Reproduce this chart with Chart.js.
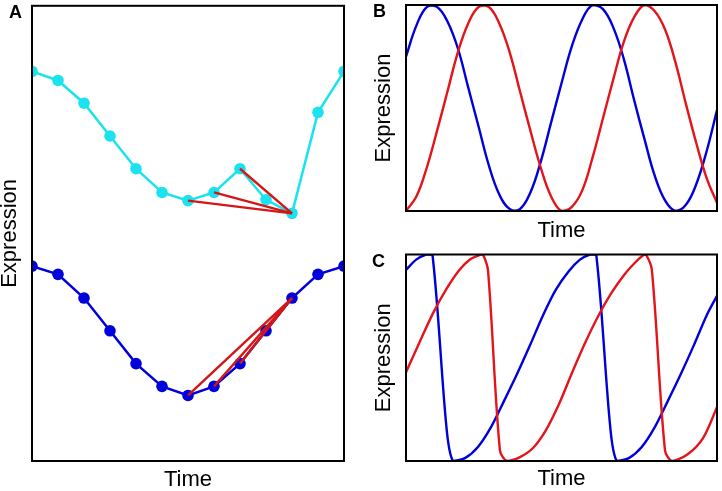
<!DOCTYPE html>
<html>
<head>
<meta charset="utf-8">
<script src="https://cdn.jsdelivr.net/npm/chart.js@4.4.1/dist/chart.umd.min.js"></script>
<style>
  html, body { margin: 0; padding: 0; background: #fff; }
  #wrap { position: relative; width: 722px; height: 491px; overflow: hidden; font-family: "Liberation Sans", Arial, sans-serif; }
  canvas { position: absolute; }
  .tag { position: absolute; font-weight: bold; font-size: 18px; line-height: 18px; color: #000; }
</style>
</head>
<body>
<div id="wrap">
  <canvas id="chartA" width="360" height="491" style="left:0;top:0"></canvas>
  <canvas id="chartB" width="362" height="245" style="left:360px;top:0"></canvas>
  <canvas id="chartC" width="362" height="246" style="left:360px;top:245px"></canvas>
  <div class="tag" style="left:9px;top:3px">A</div>
  <div class="tag" style="left:373px;top:2px">B</div>
  <div class="tag" style="left:372px;top:252px">C</div>
</div>
<script>
// Panel A: sampled time course, 13 time points
const timeA = [0, 1, 2, 3, 4, 5, 6, 7, 8, 9, 10, 11, 12];
const cyanA = [85.6, 83.6, 78.6, 71.4, 64.2, 59.0, 57.2, 59.0, 64.2, 57.4, 54.4, 76.6, 85.6];
const blueA = [42.8, 41.0, 35.8, 28.6, 21.4, 16.4, 14.4, 16.4, 21.4, 28.6, 35.8, 41.0, 42.8];
// red connector lines (pairs of time-point indices)
const linksA = [[6, 10], [7, 10], [8, 10]];

// Panel B: two sine-like oscillators
const timeB = [0, 1, 2, 3, 4, 5, 6, 7, 8, 9, 10, 11, 12, 13, 14, 15, 16, 17, 18, 19, 20, 21, 22, 23, 24, 25, 26, 27, 28, 29, 30];
const blueB = [0.75, 0.90, 0.99, 0.99, 0.92, 0.79, 0.60, 0.41, 0.22, 0.08, 0.01, 0.01, 0.09, 0.24, 0.43, 0.62,
               0.80, 0.93, 1.00, 0.98, 0.89, 0.74, 0.54, 0.35, 0.17, 0.05, 0.00, 0.03, 0.13, 0.29, 0.49];
const redB = [0.00, 0.07, 0.21, 0.39, 0.58, 0.77, 0.91, 0.99, 0.99, 0.91, 0.77, 0.58, 0.39, 0.21, 0.07, 0.00,
              0.02, 0.10, 0.26, 0.45, 0.64, 0.82, 0.94, 1.00, 0.97, 0.88, 0.72, 0.52, 0.33, 0.16, 0.04];

// Panel C: sawtooth-like oscillators
const blueCTime = [0, 0.98, 1.94, 2.55, 3.9, 4.53, 5.69, 6.94, 8.2, 9.45, 10.7, 11.96, 13.21, 14.46, 15.72, 16.78,
                   17.74, 18.35, 19.7, 20.33, 21.49, 22.74, 24.0, 25.25, 26.5, 27.76, 29.0, 30];
const blueC = [0.925, 0.975, 1.0, 1.0, 0.165, 0.0, 0.014, 0.068, 0.164, 0.29, 0.42, 0.56, 0.705, 0.83, 0.92, 0.975,
               1.0, 1.0, 0.165, 0.0, 0.014, 0.068, 0.164, 0.29, 0.42, 0.56, 0.705, 0.80];
const redCTime = [0, 1.35, 2.6, 3.86, 5.11, 6.17, 7.23, 7.43, 7.91, 9.06, 9.74, 10.99, 12.25, 13.5, 14.75, 16.0,
                  17.26, 18.52, 19.77, 21.02, 22.08, 22.85, 23.14, 23.72, 24.98, 25.65, 27.1, 28.64, 30];
const redC = [0.43, 0.58, 0.715, 0.83, 0.923, 0.976, 1.0, 1.0, 0.923, 0.053, 0.0, 0.019, 0.063, 0.15, 0.275, 0.425,
              0.57, 0.70, 0.81, 0.90, 0.96, 0.995, 1.0, 0.923, 0.053, 0.0, 0.03, 0.11, 0.26];

const BLUE = '#0000dc';
const RED = '#e3141a';
const CYAN = '#1ae2ee';
const DARKRED = '#d41616';

const titleFont = { family: '"Liberation Sans", Arial, sans-serif', size: 22, lineHeight: 0.8 };

// black box around the plot area
const framePlugin = {
    id: 'frame',
    afterDraw(chart) {
        const { ctx, chartArea } = chart;
        ctx.save();
        ctx.strokeStyle = '#000';
        ctx.lineWidth = 2;
        ctx.strokeRect(chartArea.left, chartArea.top, chartArea.right - chartArea.left, chartArea.bottom - chartArea.top);
        ctx.restore();
    }
};

function pts(xs, ys) {
    return xs.map((x, i) => ({ x: x, y: ys[i] }));
}

function panelOptions(xMax, yMax, layoutPad, yPad, xPad) {
    return {
        responsive: false,
        animation: false,
        events: [],
        layout: { padding: layoutPad },
        plugins: { legend: { display: false }, tooltip: { enabled: false } },
        scales: {
            x: {
                type: 'linear', min: 0, max: xMax,
                grid: { display: false, drawTicks: false },
                border: { display: false },
                ticks: { display: false },
                title: { display: true, text: 'Time', color: '#000', font: titleFont, padding: xPad }
            },
            y: {
                type: 'linear', min: 0, max: yMax,
                grid: { display: false, drawTicks: false },
                border: { display: false },
                ticks: { display: false },
                title: { display: true, text: 'Expression', color: '#000', font: titleFont, padding: yPad }
            }
        }
    };
}

// Panel A
const datasetsA = [];
linksA.forEach(([i, j]) => {
    datasetsA.push({ data: pts([timeA[i], timeA[j]], [cyanA[i], cyanA[j]]), borderColor: DARKRED, borderWidth: 2.4, pointRadius: 0, order: 0, clip: 0 });
    datasetsA.push({ data: pts([timeA[i], timeA[j]], [blueA[i], blueA[j]]), borderColor: DARKRED, borderWidth: 2.4, pointRadius: 0, order: 0, clip: 0 });
});
datasetsA.push({
    data: pts(timeA, cyanA), borderColor: CYAN, backgroundColor: CYAN, pointBackgroundColor: CYAN,
    borderWidth: 2.5, pointRadius: 5.8, pointBorderWidth: 0, order: 1, clip: 0
});
datasetsA.push({
    data: pts(timeA, blueA), borderColor: BLUE, backgroundColor: BLUE, pointBackgroundColor: BLUE,
    borderWidth: 2.5, pointRadius: 5.8, pointBorderWidth: 0, order: 1, clip: 0
});

new Chart(document.getElementById('chartA'), {
    type: 'line',
    data: { datasets: datasetsA },
    options: panelOptions(12, 100, { left: 0, right: 16, top: 4, bottom: 0 }, { top: 1, bottom: 13.4 }, { top: 10.6, bottom: 1.8 }),
    plugins: [framePlugin]
});

// Panel B
new Chart(document.getElementById('chartB'), {
    type: 'line',
    data: {
        datasets: [
            { data: pts(timeB, redB), borderColor: RED, borderWidth: 2.4, pointRadius: 0, tension: 0.4, clip: 0 },
            { data: pts(timeB, blueB), borderColor: BLUE, borderWidth: 2.4, pointRadius: 0, tension: 0.4, clip: 0 }
        ]
    },
    options: panelOptions(30, 1, { left: 0, right: 5, top: 5, bottom: 0 }, { top: 15.2, bottom: 13.2 }, { top: 10.9, bottom: 5.5 }),
    plugins: [framePlugin]
});

// Panel C
new Chart(document.getElementById('chartC'), {
    type: 'line',
    data: {
        datasets: [
            { data: pts(redCTime, redC), borderColor: RED, borderWidth: 2.4, pointRadius: 0, tension: 0.3, clip: 0 },
            { data: pts(blueCTime, blueC), borderColor: BLUE, borderWidth: 2.4, pointRadius: 0, tension: 0.3, clip: 0 }
        ]
    },
    options: panelOptions(30, 1, { left: 0, right: 5, top: 9.5, bottom: 0 }, { top: 15.2, bottom: 13.2 }, { top: 9.6, bottom: 2.8 }),
    plugins: [framePlugin]
});
</script>
</body>
</html>
